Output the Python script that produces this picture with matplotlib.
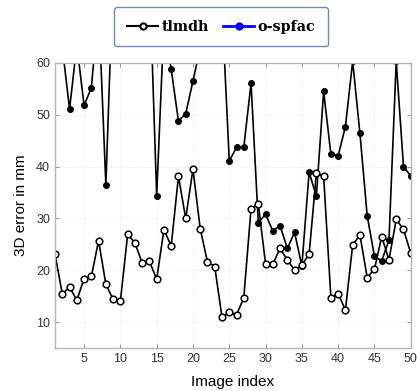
import numpy as np
import matplotlib.pyplot as plt
from matplotlib.lines import Line2D

# per-image 3D error (mm); values above 60 run off the top of the axes
image_index = np.arange(1, 51)
tlmdh = [23.1, 15.4, 16.8, 14.2, 18.4, 18.8, 25.7, 17.3, 14.4, 14.0,
         26.9, 25.3, 21.4, 21.7, 18.3, 27.8, 24.7, 38.1, 30.0, 39.5,
         28.0, 21.6, 20.7, 10.9, 11.9, 11.4, 14.7, 31.9, 32.8, 21.2,
         21.2, 24.2, 22.0, 20.0, 21.0, 23.1, 38.7, 38.1, 14.7, 15.5,
         12.3, 24.9, 26.8, 18.6, 20.2, 26.5, 22.0, 29.8, 27.9, 23.3]
o_spfac = [68.0, 63.0, 51.1, 63.5, 51.8, 55.2, 71.0, 36.5, 77.0, 80.0,
           75.0, 82.0, 78.0, 77.0, 34.4, 67.6, 58.8, 48.8, 50.2, 56.5,
           63.0, 75.0, 72.0, 70.6, 41.1, 43.7, 43.7, 56.1, 29.2, 30.8,
           27.6, 28.6, 24.2, 27.3, 20.8, 38.9, 34.3, 54.5, 42.4, 42.1,
           47.7, 60.3, 46.4, 30.5, 22.7, 21.8, 25.8, 60.3, 40.0, 38.2]
x_ticks = [5, 10, 15, 20, 25, 30, 35, 40, 45, 50]
y_ticks = [10, 20, 30, 40, 50, 60]

fig = plt.figure(figsize=(4.17, 3.91), dpi=100)
ax = fig.add_axes([0.132, 0.110, 0.853, 0.729])

ax.plot(image_index, o_spfac, color='black', lw=1.2, marker='o',
        ms=4, mfc='black', mec='black')
ax.plot(image_index, tlmdh, color='black', lw=1.2, marker='o',
        ms=4.8, mfc='white', mec='black', mew=1.1)

ax.set_xlim(1, 50)
ax.set_ylim(5, 60)
ax.set_xticks(x_ticks)
ax.set_yticks(y_ticks)
ax.grid(True, color='#e4e4e4', lw=0.6, ls=':')
ax.tick_params(direction='in', length=3, color='#999999', top=True, right=True,
               labelsize=9, labelcolor='#333333')
for s in ax.spines.values():
    s.set_color('#b5b5b5')
    s.set_linewidth(1.0)
for lbl in ax.get_xticklabels() + ax.get_yticklabels():
    lbl.set_family('Liberation Sans')

ax.set_xlabel('Image index', fontsize=11, family='Liberation Sans', labelpad=7)
ax.set_ylabel('3D error in mm', fontsize=11, family='Liberation Sans', labelpad=6)

handles = [
    Line2D([], [], color='black', lw=1.5, marker='o', ms=4.5, mfc='white', mec='black', mew=1.5),
    Line2D([], [], color='blue', lw=2.0, marker='o', ms=5, mfc='blue', mec='blue'),
]
leg = fig.legend(handles, ['tlmdh', 'o-spfac'], loc='center', bbox_to_anchor=(0.53, 0.932),
                 ncol=2, frameon=True, fancybox=True, handlelength=2.2, handletextpad=0.2,
                 columnspacing=1.0, borderpad=0.9, borderaxespad=0.0,
                 prop={'family': 'DejaVu Serif', 'weight': 'bold', 'size': 10.3})
leg.get_frame().set_edgecolor('#4a6da7')
leg.get_frame().set_linewidth(1.0)

fig.savefig('out.png', dpi=100)
